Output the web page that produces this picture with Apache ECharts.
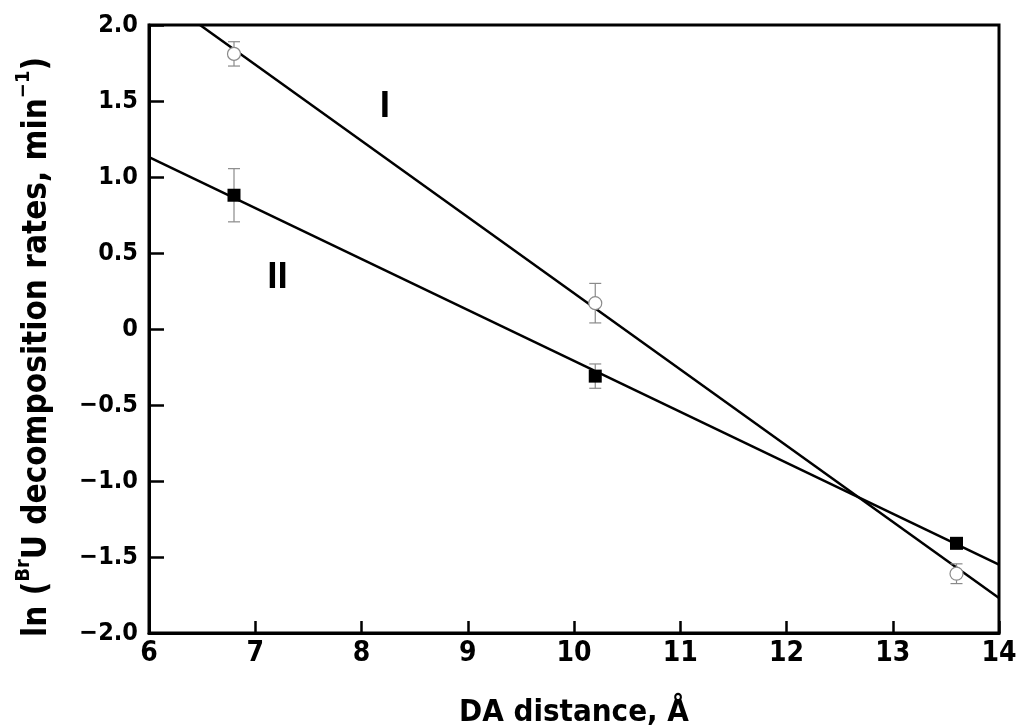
<!DOCTYPE html>
<html>
<head>
<meta charset="utf-8">
<script src="https://cdn.jsdelivr.net/npm/echarts@6/dist/echarts.min.js"></script>
<style>
  html, body { margin: 0; padding: 0; background: #fff; }
  #chart { width: 1018px; height: 728px; }
</style>
</head>
<body>
<div id="chart"></div>
<script>
// DA distance (Å) of the three measured duplexes
const xDist = [6.8, 10.2, 13.6];
// series I (open circles) and II (filled squares), ln of rate, with error half-widths
const lnRateI = [1.81, 0.17, -1.61];
const errI = [0.08, 0.13, 0.065];
const lnRateII = [0.88, -0.31, -1.41];
const errII = [0.175, 0.08, 0];
// fitted straight lines (end points)
const fitI = [[6.48, 2.0], [14, -1.77]];
const fitII = [[6, 1.13], [14, -1.55]];
// line labels
const lineLabels = [['I', 8.22, 1.46], ['II', 7.21, 0.34]];

const font = '"DejaVu Sans Condensed", "Liberation Sans", Arial, sans-serif';
const labelFont = '"Liberation Sans", Arial, Helvetica, sans-serif';

const pts = (ys) => xDist.map((x, i) => [x, ys[i]]);
const errData = (ys, es) => xDist.map((x, i) => [x, ys[i] - es[i], ys[i] + es[i]]);

const fmtY = (v) => {
    if (v === 0) return '0';
    return (v < 0 ? '\u2212' : '') + Math.abs(v).toFixed(1);
};

const renderErr = (params, api) => {
    const x = api.value(0);
    const lo = api.coord([x, api.value(1)]);
    const hi = api.coord([x, api.value(2)]);
    const w = 6;
    const style = { stroke: '#8a8a8a', lineWidth: 1.2 };
    return {
        type: 'group',
        children: [
            { type: 'line', shape: { x1: lo[0], y1: lo[1], x2: hi[0], y2: hi[1] }, style },
            { type: 'line', shape: { x1: lo[0] - w, y1: lo[1], x2: lo[0] + w, y2: lo[1] }, style },
            { type: 'line', shape: { x1: hi[0] - w, y1: hi[1], x2: hi[0] + w, y2: hi[1] }, style },
        ],
    };
};

const chart = echarts.init(document.getElementById('chart'));

chart.setOption({
    animation: false,
    backgroundColor: '#fff',
    grid: {
        left: 149,
        right: 19,
        top: 25,
        bottom: 95,
        show: true,
        borderColor: '#000',
        borderWidth: 3,
        containLabel: false,
        outerBoundsMode: 'none',
    },
    xAxis: {
        type: 'value',
        min: 6,
        max: 14,
        interval: 1,
        name: 'DA distance, \u00C5',
        nameLocation: 'middle',
        nameGap: 64,
        nameTextStyle: { fontFamily: font, fontWeight: 'bold', fontSize: 31, color: '#000' },
        axisLine: { show: true, onZero: false, lineStyle: { color: '#000', width: 3 } },
        axisTick: { show: true, inside: true, length: 12, lineStyle: { color: '#000', width: 2.5 } },
        axisLabel: { fontFamily: font, fontWeight: 'bold', fontSize: 28, color: '#000', margin: 7 },
        splitLine: { show: false },
    },
    yAxis: {
        type: 'value',
        min: -2,
        max: 2,
        interval: 0.5,
        name: '{t|ln (}{s|Br}{t|U decomposition rates, min}{s|\u22121}{t|)}',
        nameLocation: 'middle',
        nameRotate: 90,
        nameGap: 95,
        nameTextStyle: {
            padding: [0, 36, 0, 0],
            rich: {
                t: { fontFamily: font, fontWeight: 'bold', fontSize: 33, color: '#000', lineHeight: 40, verticalAlign: 'bottom' },
                s: { fontFamily: font, fontWeight: 'bold', fontSize: 20, color: '#000', lineHeight: 40, verticalAlign: 'top', padding: [0, 0, 16, 0] },
            },
        },
        axisLine: { show: true, onZero: false, lineStyle: { color: '#000', width: 3 } },
        axisTick: { show: true, inside: true, length: 15, lineStyle: { color: '#000', width: 2.5 } },
        axisLabel: { fontFamily: font, fontWeight: 'bold', fontSize: 25, color: '#000', margin: 11, formatter: fmtY },
        splitLine: { show: false },
    },
    series: [
        {
            name: 'fit I',
            type: 'line',
            data: fitI,
            symbol: 'none',
            lineStyle: { color: '#000', width: 2.5 },
            z: 2,
        },
        {
            name: 'fit II',
            type: 'line',
            data: fitII,
            symbol: 'none',
            lineStyle: { color: '#000', width: 2.5 },
            z: 2,
        },
        {
            name: 'err I',
            type: 'custom',
            renderItem: renderErr,
            data: errData(lnRateI, errI),
            z: 3,
        },
        {
            name: 'err II',
            type: 'custom',
            renderItem: renderErr,
            data: errData(lnRateII, errII),
            z: 3,
        },
        {
            name: 'I',
            type: 'scatter',
            data: pts(lnRateI),
            symbol: 'circle',
            symbolSize: 13,
            itemStyle: { color: '#fff', borderColor: '#8a8a8a', borderWidth: 1.2, opacity: 1 },
            z: 4,
        },
        {
            name: 'II',
            type: 'scatter',
            data: pts(lnRateII),
            symbol: 'rect',
            symbolSize: 13,
            itemStyle: { color: '#000', opacity: 1 },
            z: 4,
        },
        {
            name: 'labels',
            type: 'scatter',
            data: lineLabels.map((d) => ({ value: [d[1], d[2]], name: d[0] })),
            symbolSize: 0,
            itemStyle: { opacity: 1 },
            label: {
                show: true,
                position: 'inside',
                formatter: (p) => p.name,
                fontFamily: labelFont,
                fontWeight: 'bold',
                fontSize: 37,
                color: '#000',
            },
            z: 5,
        },
    ],
});
</script>
</body>
</html>
